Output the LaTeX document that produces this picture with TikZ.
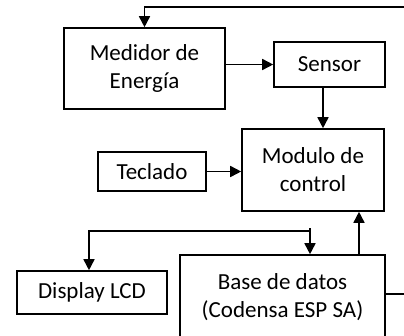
\documentclass[tikz,border=0pt]{standalone}
\usepackage{fontspec}
\setmainfont{Carlito}
\usetikzlibrary{arrows.meta}
\begin{document}
\begin{tikzpicture}[x=1pt,y=-1pt,
  box/.style={draw,line width=1.6pt,align=center,inner sep=0pt,font=\fontsize{23}{28}\selectfont},
  arr/.style={line width=1.6pt,-{Triangle[length=11pt,width=11pt]}},
  ln/.style={line width=1.6pt}]
\useasboundingbox (0,0) rectangle (404,335);
\node[box,minimum width=161pt,minimum height=81pt] (med) at (144.5,68.5) {Medidor de\\Energía};
\node[box,minimum width=111pt,minimum height=45pt] (sen) at (329.5,64.5) {Sensor};
\node[box,minimum width=142pt,minimum height=82pt] (mod) at (313,170) {Modulo de\\control};
\node[box,minimum width=108pt,minimum height=39pt] (tec) at (152,171.5) {Teclado};
\node[box,minimum width=150pt,minimum height=43pt] (dis) at (92,292.5) {Display LCD};
\node[box,minimum width=205pt,minimum height=85pt] (bas) at (282.5,297.5) {Base de datos\\(Codensa ESP SA)};
\coordinate (tr) at (404,7);
\coordinate (br) at (404,294);
\coordinate (jt) at (310,228);
\coordinate (jc) at (310,231);
\draw[arr] (tr) -| (med.north);
\draw[arr] (med.east |- sen.west) -- (sen.west);
\draw[arr] ([xshift=-6.5pt]sen.south) -- ([xshift=-6.5pt]sen.south |- mod.north);
\draw[arr] (tec.east) -- (mod.west |- tec.east);
\draw[arr] ([xshift=76.5pt]bas.north) -- ([xshift=76.5pt]bas.north |- mod.south);
\draw[ln] ([yshift=3.5pt]bas.east) -- (br);
\draw[arr] (jt) -- ([xshift=27.5pt]bas.north);
\draw[arr] (jc) -| ([xshift=-3pt]dis.north);
\end{tikzpicture}
\end{document}
